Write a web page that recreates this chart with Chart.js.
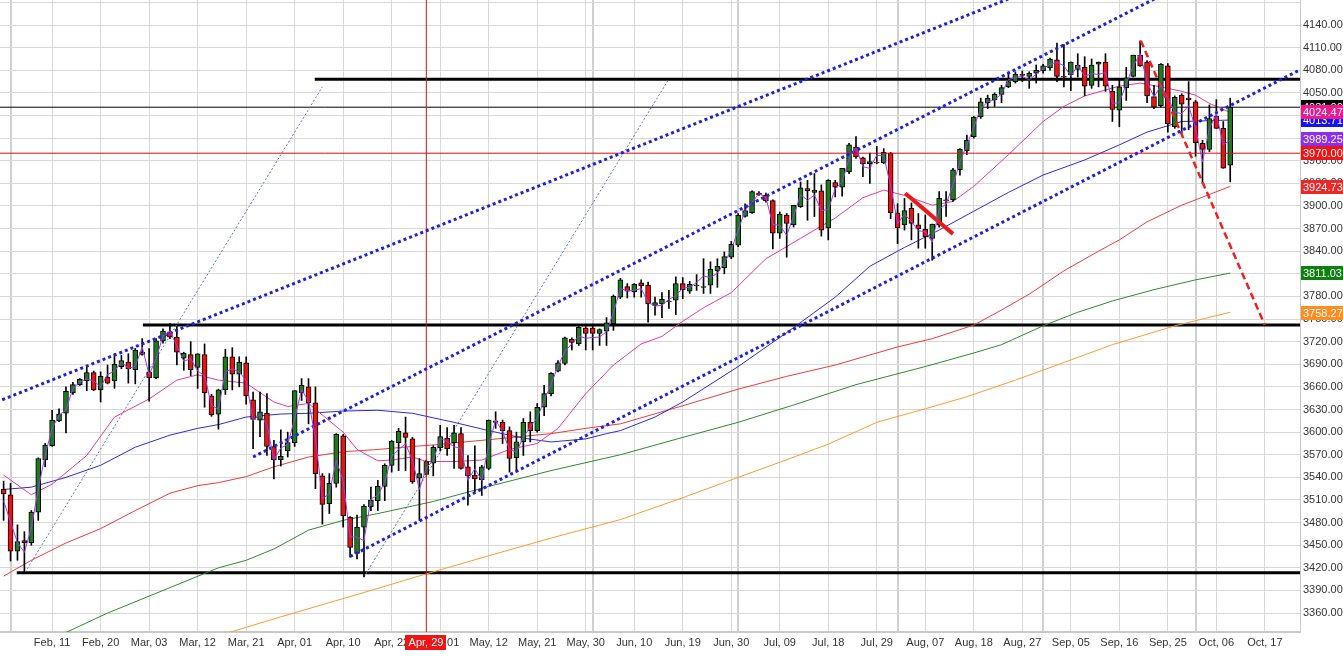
<!DOCTYPE html>
<html lang="en">
<head>
<meta charset="UTF-8">
<title>Index daily candles</title>
<script src="https://cdn.jsdelivr.net/npm/chart.js"></script>
<style>
  html, body { margin: 0; padding: 0; background: #fff; }
  #wrap { width: 1343px; height: 662px; }
</style>
</head>
<body>
<div id="wrap"><canvas id="chart" width="1343" height="662"></canvas></div>
<script>
// date labels, one every 7 bars starting at bar 7 (bar 0 = Jan 31)
const tickLabels = ['Feb, 11', 'Feb, 20', 'Mar, 03', 'Mar, 12', 'Mar, 21', 'Apr, 01', 'Apr, 10', 'Apr, 22',
    'May, 01', 'May, 12', 'May, 21', 'May, 30', 'Jun, 10', 'Jun, 19', 'Jun, 30', 'Jul, 09', 'Jul, 18',
    'Jul, 29', 'Aug, 07', 'Aug, 18', 'Aug, 27', 'Sep, 05', 'Sep, 16', 'Sep, 25', 'Oct, 06', 'Oct, 17'];
const firstTick = 7;
const tickStep = 7;
const monthStarts = [1, 85, 106, 129, 150, 172];

const opens = [3524, 3517, 3442, 3456, 3453, 3494, 3563, 3582, 3615, 3625,
    3652, 3663, 3668, 3679, 3656, 3673, 3668, 3687, 3693, 3683,
    3706, 3680, 3672, 3721, 3733, 3726, 3698, 3703, 3686, 3703,
    3648, 3624, 3656, 3700, 3677, 3692, 3643, 3616, 3625, 3581,
    3563, 3575, 3586, 3652, 3660, 3639, 3542, 3505, 3532, 3595,
    3487, 3439, 3474, 3501, 3509, 3528, 3556, 3586, 3599, 3591,
    3539, 3544, 3559, 3579, 3592, 3586, 3598, 3554, 3543, 3537,
    3552, 3615, 3613, 3602, 3566, 3587, 3613, 3602, 3633, 3651,
    3681, 3691, 3723, 3717, 3738, 3738, 3731, 3734, 3744, 3779,
    3793, 3786, 3798, 3795, 3768, 3770, 3773, 3775, 3797, 3787,
    3794, 3792, 3795, 3814, 3818, 3832, 3848, 3886, 3891, 3917,
    3914, 3907, 3864, 3888, 3875, 3899, 3923, 3918, 3920, 3871,
    3931, 3925, 3945, 3978, 3964, 3956, 3958, 3957, 3970, 3891,
    3875, 3897, 3875, 3869, 3857, 3875, 3907, 3908, 3948, 3973,
    3992, 4018, 4037, 4041, 4048, 4058, 4065, 4075, 4072, 4076,
    4079, 4083, 4094, 4072, 4074, 4081, 4084, 4060, 4088, 4091,
    4052, 4027, 4057, 4072, 4100, 4091, 4045, 4033, 4086, 4005,
    4047, 4043, 4038, 3983, 3975, 4019, 4003, 3954];
const highs = [3535, 3532, 3477, 3468, 3496, 3566, 3585, 3629, 3631, 3660,
    3666, 3671, 3686, 3681, 3680, 3689, 3704, 3702, 3704, 3711,
    3724, 3711, 3724, 3737, 3744, 3740, 3706, 3720, 3704, 3717,
    3650, 3657, 3710, 3712, 3700, 3700, 3653, 3653, 3651, 3589,
    3603, 3600, 3655, 3671, 3671, 3660, 3545, 3545, 3598, 3597,
    3488, 3490, 3504, 3527, 3536, 3558, 3589, 3605, 3620, 3593,
    3565, 3563, 3582, 3609, 3606, 3609, 3606, 3569, 3582, 3556,
    3616, 3627, 3616, 3607, 3600, 3618, 3627, 3638, 3662, 3679,
    3695, 3726, 3725, 3740, 3740, 3742, 3737, 3752, 3782, 3804,
    3797, 3797, 3802, 3799, 3779, 3785, 3788, 3806, 3805, 3800,
    3809, 3830, 3826, 3830, 3839, 3853, 3890, 3903, 3920, 3919,
    3917, 3908, 3892, 3890, 3901, 3932, 3934, 3943, 3928, 3935,
    3934, 3950, 3983, 3992, 3965, 3970, 3979, 3976, 3971, 3903,
    3910, 3904, 3890, 3888, 3876, 3919, 3919, 3950, 3976, 3994,
    4019, 4043, 4047, 4050, 4060, 4078, 4078, 4079, 4078, 4087,
    4088, 4096, 4116, 4114, 4091, 4102, 4098, 4095, 4091, 4102,
    4060, 4069, 4084, 4100, 4119, 4093, 4060, 4089, 4089, 4046,
    4049, 4065, 4040, 3987, 4034, 4041, 4012, 4043];
const lows = [3483, 3429, 3430, 3413, 3450, 3483, 3554, 3581, 3614, 3599,
    3650, 3662, 3655, 3655, 3640, 3664, 3658, 3684, 3665, 3664,
    3702, 3641, 3671, 3718, 3724, 3689, 3682, 3675, 3658, 3633,
    3621, 3604, 3650, 3656, 3660, 3637, 3578, 3594, 3569, 3538,
    3555, 3567, 3581, 3642, 3611, 3525, 3478, 3492, 3527, 3474,
    3434, 3432, 3408, 3496, 3496, 3509, 3547, 3549, 3549, 3532,
    3483, 3543, 3542, 3575, 3569, 3552, 3551, 3503, 3521, 3516,
    3550, 3605, 3585, 3547, 3547, 3569, 3587, 3600, 3622, 3648,
    3680, 3689, 3709, 3715, 3709, 3709, 3715, 3715, 3735, 3777,
    3778, 3779, 3779, 3746, 3755, 3752, 3764, 3756, 3777, 3784,
    3788, 3784, 3784, 3792, 3810, 3830, 3846, 3885, 3890, 3914,
    3905, 3843, 3857, 3832, 3872, 3898, 3881, 3886, 3860, 3855,
    3912, 3913, 3943, 3963, 3939, 3930, 3956, 3956, 3883, 3850,
    3868, 3855, 3844, 3844, 3828, 3872, 3886, 3906, 3941, 3968,
    3990, 4016, 4029, 4032, 4037, 4057, 4063, 4065, 4056, 4063,
    4076, 4080, 4065, 4058, 4053, 4071, 4046, 4056, 4058, 4052,
    4012, 4005, 4040, 4071, 4085, 4037, 4029, 4031, 3998, 4003,
    3996, 4001, 3966, 3930, 3972, 4003, 3950, 3932];
const closes = [3518, 3442, 3455, 3453, 3494, 3565, 3583, 3616, 3624, 3654,
    3663, 3670, 3679, 3656, 3674, 3665, 3690, 3695, 3684, 3709,
    3703, 3672, 3721, 3734, 3726, 3706, 3705, 3683, 3704, 3652,
    3623, 3656, 3700, 3677, 3693, 3648, 3617, 3627, 3581, 3563,
    3568, 3586, 3655, 3662, 3639, 3545, 3504, 3532, 3597, 3489,
    3447, 3474, 3502, 3510, 3528, 3556, 3588, 3601, 3593, 3534,
    3545, 3561, 3580, 3594, 3578, 3599, 3552, 3542, 3538, 3554,
    3616, 3613, 3602, 3565, 3587, 3613, 3602, 3633, 3651, 3678,
    3692, 3725, 3719, 3739, 3731, 3731, 3736, 3745, 3780, 3802,
    3787, 3796, 3794, 3770, 3772, 3776, 3774, 3797, 3789, 3796,
    3795, 3793, 3816, 3820, 3833, 3849, 3888, 3894, 3919, 3915,
    3907, 3864, 3889, 3877, 3901, 3924, 3920, 3921, 3868, 3934,
    3925, 3950, 3981, 3965, 3956, 3959, 3957, 3971, 3891, 3871,
    3894, 3877, 3870, 3859, 3876, 3910, 3908, 3948, 3975, 3987,
    4018, 4038, 4043, 4048, 4057, 4065, 4075, 4073, 4076, 4080,
    4086, 4095, 4072, 4071, 4091, 4087, 4059, 4087, 4091, 4059,
    4028, 4058, 4070, 4100, 4086, 4046, 4031, 4088, 4009, 4044,
    4035, 4041, 3984, 3975, 4016, 4003, 3950, 4031];

// moving averages: [bar index, value]
const maPink = [[0, 3543], [4, 3517], [7, 3531], [12, 3569], [16, 3620], [21, 3644], [25, 3669], [28, 3676],
    [31, 3669], [35, 3665], [39, 3640], [41, 3634], [44, 3638], [47, 3615], [49, 3600], [51, 3577], [54, 3562],
    [56, 3563], [59, 3567], [61, 3561], [65, 3561], [69, 3563], [73, 3577], [77, 3585], [80, 3605], [84, 3651],
    [88, 3689], [92, 3717], [95, 3727], [98, 3747], [101, 3765], [105, 3785], [110, 3830], [115, 3857],
    [117, 3868], [120, 3884], [124, 3911], [127, 3921], [130, 3914], [134, 3901], [137, 3906], [140, 3926],
    [145, 3968], [150, 4012], [153, 4032], [156, 4046], [161, 4059], [164, 4063], [167, 4058], [170, 4052],
    [172, 4047], [174, 4036], [177, 4024]];
const maBlue = [[0, 3524], [4, 3527], [9, 3540], [14, 3556], [19, 3580], [24, 3596], [28, 3605], [31, 3610],
    [35, 3620], [40, 3624], [44, 3625], [49, 3628], [54, 3629], [59, 3625], [62, 3619], [65, 3613], [70, 3602],
    [75, 3592], [79, 3587], [84, 3591], [87, 3598], [89, 3602], [94, 3620], [98, 3640], [106, 3687],
    [113, 3732], [120, 3779], [125, 3820], [130, 3845], [135, 3868], [140, 3893], [145, 3918], [150, 3941],
    [156, 3961], [161, 3981], [165, 3998], [170, 4012], [177, 4014]];
const maRed = [[0, 3409], [4, 3430], [9, 3453], [14, 3472], [19, 3496], [24, 3519], [28, 3529], [31, 3533],
    [35, 3541], [39, 3554], [44, 3567], [49, 3574], [54, 3577], [59, 3581], [62, 3583], [70, 3590], [79, 3598],
    [84, 3605], [89, 3611], [98, 3635], [106, 3657], [113, 3674], [120, 3689], [129, 3713], [134, 3724],
    [140, 3742], [144, 3762], [148, 3783], [153, 3814], [158, 3840], [161, 3855], [165, 3879], [170, 3901],
    [177, 3926]];
const maGreen = [[8, 3330], [15, 3360], [23, 3390], [31, 3420], [35, 3430], [39, 3445], [44, 3470], [49, 3483],
    [54, 3492], [59, 3502], [62, 3508], [70, 3528], [79, 3549], [89, 3570], [98, 3593], [106, 3613],
    [114, 3636], [123, 3663], [133, 3687], [140, 3705], [144, 3716], [150, 3741], [155, 3759], [160, 3774],
    [166, 3789], [172, 3802], [177, 3811]];
const maOrange = [[31, 3330], [40, 3355], [53, 3390], [61, 3412], [70, 3436], [80, 3462], [89, 3484],
    [98, 3513], [106, 3540], [112, 3560], [119, 3584], [126, 3613], [133, 3631], [139, 3647], [146, 3669],
    [152, 3689], [160, 3716], [169, 3741], [177, 3759]];

// drawn studies: [bar index, price]
const upperChannel = [[-1, 3640], [150, 4193]];
const middleChannel = [[36, 3567], [170, 4193]];
const lowerChannel = [[50, 3435], [188, 4085]];
const steepLineA = [[3.1, 3414], [46, 4058]];
const steepLineB = [[52, 3408], [95.9, 4067]];
const redDash = [[164.1, 4119], [182, 3742]];
const redSlash = [[130.1, 3917], [137, 3863]];
const levelTop = [[44.9, 4068], [190, 4068]];
const levelMid = [[20.1, 3742], [190, 3742]];
const levelLow = [[1.9, 3413.5], [190, 3413.5]];
const lastPrice = [[-2, 4031], [190, 4031]];

const crossIndex = 61;
const crossLabel = 'Apr, 29';
const crossPrice = 3970;

const tagValues = [4031.00, 4013.71, 4024.47, 3989.25, 3970.00, 3924.73, 3811.03, 3758.27];
const tagColors = ['#000000', '#1414f0', '#f0168c', '#8c2ef0', '#f01414', '#f02626', '#0f800f', '#ff8c1e'];

const fontFamily = '"Liberation Sans Narrow", "Liberation Sans", Arial, sans-serif';

function pts(pairs) {
    return pairs.map(p => ({ x: p[0], y: p[1] }));
}

function lineSet(pairs, color, width, dash, order) {
    return {
        type: 'line',
        data: pts(pairs),
        borderColor: color,
        borderWidth: width,
        borderDash: dash || [],
        pointRadius: 0,
        tension: 0,
        fill: false,
        order: order
    };
}

const bodies = opens.map((o, i) => {
    let a = o, b = closes[i];
    if (Math.abs(a - b) < 1) {
        const m = (a + b) / 2;
        a = m - 0.6;
        b = m + 0.6;
    }
    return { x: i, y: [a, b] };
});
const bodyColors = opens.map((o, i) => closes[i] >= o ? '#1f7a1f' : '#ee1111');
const wicks = highs.map((h, i) => ({ x: i, y: [lows[i], h] }));
const midLine = highs.map((h, i) => [i, (h + lows[i]) / 2]);

const tickIndex = tickLabels.map((_, k) => firstTick + k * tickStep);

const tagsPlugin = {
    id: 'tags',
    afterDraw(chart) {
        const ctx = chart.ctx;
        const area = chart.chartArea;
        const ys = chart.scales.y;
        const xs = chart.scales.x;
        ctx.save();
        ctx.font = '11px ' + fontFamily;
        ctx.textBaseline = 'middle';
        tagValues.forEach((v, i) => {
            const y = Math.round(ys.getPixelForValue(v));
            ctx.fillStyle = tagColors[i];
            ctx.fillRect(area.right + 1, y - 7, chart.width - area.right - 1, 14);
            ctx.fillStyle = '#ffffff';
            ctx.textAlign = 'left';
            ctx.fillText(v.toFixed(2), area.right + 3, y + 0.5);
        });
        // date box of the crosshair
        const cx = Math.round(xs.getPixelForValue(crossIndex));
        ctx.fillStyle = '#f01414';
        ctx.fillRect(cx - 21, area.bottom + 3, 41, 15);
        ctx.fillStyle = '#ffffff';
        ctx.textAlign = 'center';
        ctx.fillText(crossLabel, cx, area.bottom + 11);
        ctx.restore();
    }
};

const datasets = [
    lineSet(midLine, '#9a3cf0', 1, null, 0),
    lineSet(upperChannel, '#2020d8', 3, [3, 3], 1),
    lineSet(middleChannel, '#2020d8', 3, [3, 3], 1),
    lineSet(lowerChannel, '#2020d8', 3, [3, 3], 1),
    lineSet(redDash, '#ee2020', 2.5, [7, 4], 1),
    lineSet(redSlash, '#ee1818', 4, null, 1),
    lineSet([[crossIndex, 3300], [crossIndex, 4200]], '#d01010', 1, null, 1),
    lineSet([[-2, crossPrice], [190, crossPrice]], '#d01010', 1, null, 1),
    {
        type: 'bar',
        data: bodies,
        backgroundColor: bodyColors,
        borderColor: '#000000',
        borderWidth: 1,
        borderSkipped: false,
        barThickness: 5,
        grouped: false,
        order: 2
    },
    {
        type: 'bar',
        data: wicks,
        backgroundColor: '#000000',
        borderWidth: 0,
        barThickness: 1,
        grouped: false,
        order: 3
    },
    lineSet(maPink, '#e8389a', 1, null, 4),
    lineSet(maBlue, '#2a2ae0', 1, null, 4),
    lineSet(maRed, '#f03a3a', 1, null, 4),
    lineSet(maGreen, '#2f8a2f', 1, null, 4),
    lineSet(maOrange, '#ff9a30', 1, null, 4),
    lineSet(steepLineA, '#5b78b8', 1, [2, 2], 5),
    lineSet(steepLineB, '#5b78b8', 1, [2, 2], 5),
    lineSet(levelTop, '#000000', 3, null, 5),
    lineSet(levelMid, '#000000', 3, null, 5),
    lineSet(levelLow, '#000000', 3, null, 5),
    lineSet(lastPrice, '#000000', 1, null, 5)
];

new Chart(document.getElementById('chart'), {
    type: 'bar',
    data: { datasets: datasets },
    options: {
        responsive: false,
        animation: false,
        events: [],
        layout: { padding: 0 },
        plugins: {
            legend: { display: false },
            tooltip: { enabled: false }
        },
        scales: {
            x: {
                type: 'linear',
                min: -0.52,
                max: 187.07,
                offset: false,
                afterBuildTicks: scale => {
                    const all = tickIndex.concat(monthStarts.filter(m => !tickIndex.includes(m)));
                    all.sort((a, b) => a - b);
                    scale.ticks = all.map(v => ({ value: v }));
                },
                afterFit: scale => {
                    scale.height = 30;
                    scale.paddingLeft = 0;
                    scale.paddingRight = 0;
                },
                ticks: {
                    autoSkip: false,
                    maxRotation: 0,
                    padding: 4,
                    color: '#333333',
                    font: { family: fontFamily, size: 11 },
                    callback: value => {
                        const k = tickIndex.indexOf(value);
                        return k >= 0 ? tickLabels[k] : '';
                    }
                },
                grid: {
                    offset: false,
                    drawTicks: false,
                    color: ctx => monthStarts.includes(ctx.tick && ctx.tick.value) ? '#d0d0d0' : '#d8d8d8',
                    lineWidth: ctx => monthStarts.includes(ctx.tick && ctx.tick.value) ? 2 : 1
                },
                border: { color: '#c8c8c8', width: 2 }
            },
            y: {
                type: 'linear',
                position: 'right',
                min: 3334.9,
                max: 4173.2,
                afterFit: scale => {
                    scale.width = 43;
                    scale.paddingTop = 0;
                    scale.paddingBottom = 0;
                },
                ticks: {
                    stepSize: 30,
                    includeBounds: false,
                    padding: 3,
                    color: '#333333',
                    font: { family: fontFamily, size: 11 },
                    callback: v => v > 4150 ? '' : v.toFixed(2)
                },
                grid: {
                    drawTicks: false,
                    color: '#d8d8d8'
                },
                border: { color: '#c8c8c8' }
            }
        }
    },
    plugins: [tagsPlugin]
});
</script>
</body>
</html>
